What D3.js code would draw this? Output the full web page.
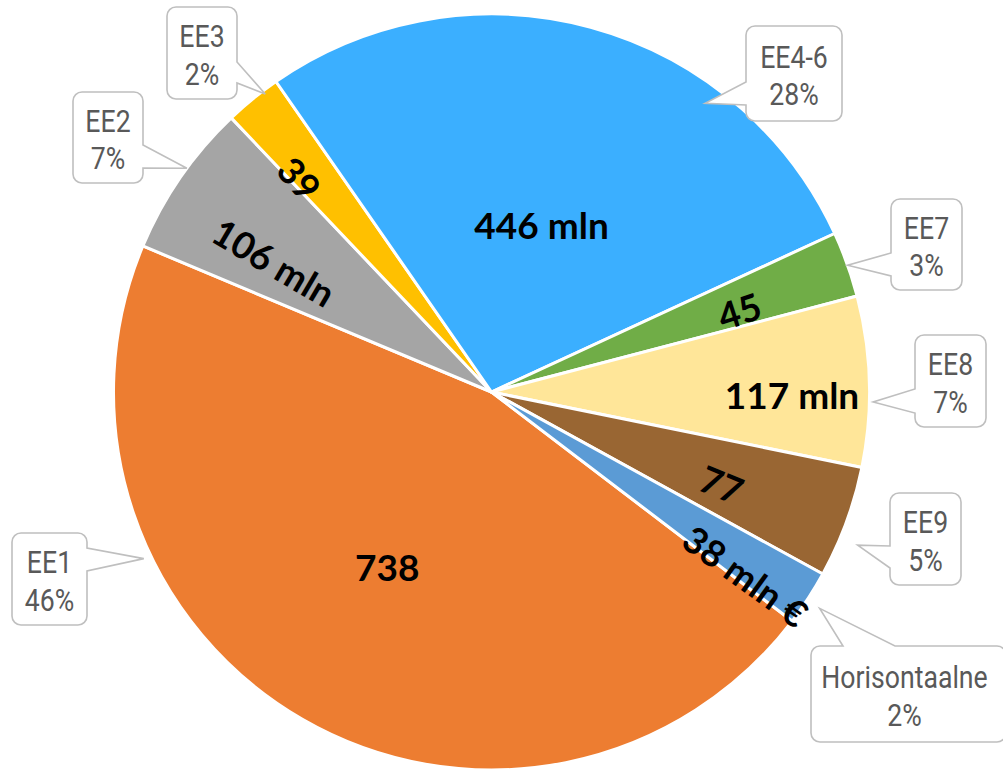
<!DOCTYPE html>
<html>
<head>
<meta charset="utf-8">
<script src="https://cdn.jsdelivr.net/npm/d3@7"></script>
<style>
  body { margin: 0; background: #fff; }
  svg { display: block; }
</style>
</head>
<body>
<div id="display"></div>
<script>
// values in mln €
const categories = ["EE1", "EE2", "EE3", "EE4-6", "EE7", "EE8", "EE9", "Horisontaalne"];
const values = [738, 106, 39, 446, 45, 117, 77, 38];
const valueLabels = ["738", "106 mln", "39", "446 mln", "45", "117 mln", "77", "38 mln €"];
const percentLabels = ["46%", "7%", "2%", "28%", "3%", "7%", "5%", "2%"];
const colors = ["#ED7D31", "#A5A5A5", "#FFC000", "#3BAFFF", "#70AD47", "#FFE699", "#996633", "#5B9BD5"];

// layout for the inside labels: radius fraction, angle nudge (deg), rotated or not
const labRadius = [0.54, 0.67, 0.76, 0.46, 0.69, 0.795, 0.656, 0.83];
const labNudge = [0.7, -4, -3, 1.5, 1.8, 2.2, 1.9, 3];
const labRotate = [false, true, true, false, true, false, true, true];

// callout boxes: x, y, w, h, side of the pointer, base offsets, tip angle (deg), tip radius fraction
const callouts = [
    { x: 12, y: 533, w: 75, h: 92, side: "right", b1: 15, b2: 38, ta: 244.4, tr: 1.02 },
    { x: 73, y: 92, w: 70, h: 91, side: "right", b1: 53, b2: 76, ta: 306.3, tr: 1.0 },
    { x: 167, y: 7, w: 70, h: 92, side: "right", b1: 55, b2: 76, ta: 322.8, tr: 0.99 },
    { x: 746, y: 26, w: 96, h: 95, side: "left", b1: 56, b2: 79, ta: 36.5, tr: 0.95 },
    { x: 891, y: 199, w: 71, h: 91, side: "left", b1: 54, b2: 77, ta: 70.4, tr: 1.0 },
    { x: 915, y: 335, w: 71, h: 92, side: "left", b1: 54, b2: 78, ta: 91.5, tr: 1.01 },
    { x: 890, y: 493, w: 71, h: 92, side: "left", b1: 53, b2: 75, ta: 112.7, tr: 1.05 },
    { x: 811, y: 646, w: 195, h: 96, side: "top", b1: 32, b2: 84, ta: 123.4, tr: 1.04 }
];

var width = 1003,
    height = 771,
    cx = 491.5,
    cy = 392,
    radius = 378;

var svg = d3.select("#display").append("svg")
    .attr("width", width)
    .attr("height", height);

var rad = Math.PI / 180;
var start = 127.3 * rad;

var pie = d3.pie().sort(null).startAngle(start).endAngle(start + 2 * Math.PI);
var arcs = pie(values);
var arc = d3.arc().innerRadius(0).outerRadius(radius);

var g = svg.append("g").attr("transform", "translate(" + cx + "," + cy + ")");

g.selectAll(".slice")
    .data(arcs)
    .enter().append("path")
    .attr("class", "slice")
    .attr("d", arc)
    .attr("fill", function (d, i) { return colors[i]; })
    .attr("stroke", "#fff")
    .attr("stroke-width", 3)
    .attr("stroke-linejoin", "round");

// value labels inside slices
g.selectAll(".vlab")
    .data(arcs)
    .enter().append("text")
    .attr("class", "vlab")
    .attr("transform", function (d, i) {
        var a = (d.startAngle + d.endAngle) / 2 + labNudge[i] * rad;
        var r = radius * labRadius[i];
        var x = Math.sin(a) * r, y = -Math.cos(a) * r;
        var deg = a / rad % 360;
        var rot = 0;
        if (labRotate[i]) rot = deg < 180 ? deg - 90 : deg - 270;
        return "translate(" + x + "," + y + ") rotate(" + rot + ")";
    })
    .attr("text-anchor", "middle")
    .attr("dy", "0.36em")
    .style("font-family", "Lato, 'DejaVu Sans', sans-serif")
    .style("font-weight", "bold")
    .style("font-size", "37px")
    .style("fill", "#000")
    .text(function (d, i) { return valueLabels[i]; });

function calloutPath(c, tx, ty) {
    var x = c.x, y = c.y, w = c.w, h = c.h, r = 9;
    var p = d3.path();
    p.moveTo(x + r, y);
    if (c.side === "top") {
        p.lineTo(x + c.b1, y); p.lineTo(tx, ty); p.lineTo(x + c.b2, y);
    }
    p.lineTo(x + w - r, y);
    p.arcTo(x + w, y, x + w, y + r, r);
    if (c.side === "right") {
        p.lineTo(x + w, y + c.b1); p.lineTo(tx, ty); p.lineTo(x + w, y + c.b2);
    }
    p.lineTo(x + w, y + h - r);
    p.arcTo(x + w, y + h, x + w - r, y + h, r);
    p.lineTo(x + r, y + h);
    p.arcTo(x, y + h, x, y + h - r, r);
    if (c.side === "left") {
        p.lineTo(x, y + c.b2); p.lineTo(tx, ty); p.lineTo(x, y + c.b1);
    }
    p.lineTo(x, y + r);
    p.arcTo(x, y, x + r, y, r);
    p.closePath();
    return p.toString();
}

var boxes = svg.selectAll(".callout")
    .data(callouts)
    .enter().append("g")
    .attr("class", "callout");

boxes.append("path")
    .attr("d", function (c) {
        var tx = cx + Math.sin(c.ta * rad) * radius * c.tr;
        var ty = cy - Math.cos(c.ta * rad) * radius * c.tr;
        return calloutPath(c, tx, ty);
    })
    .attr("fill", "#fff")
    .attr("stroke", "#BFBFBF")
    .attr("stroke-width", 1.6);

var txt = boxes.append("text")
    .attr("transform", function (c) {
        var mx = c.x + Math.min(c.w, width - c.x) / 2;
        if (c.side === "top") mx = c.x + 187 / 2;
        return "translate(" + mx + "," + (c.y + c.h / 2) + ") scale(0.86,1)";
    })
    .attr("text-anchor", "middle")
    .style("font-family", "Roboto, sans-serif")
    .style("font-size", "31px")
    .style("fill", "#595959");

txt.append("tspan")
    .attr("x", 0)
    .attr("y", -6)
    .text(function (c, i) { return categories[i]; });

txt.append("tspan")
    .attr("x", 0)
    .attr("y", 32)
    .text(function (c, i) { return percentLabels[i]; });
</script>
</body>
</html>
